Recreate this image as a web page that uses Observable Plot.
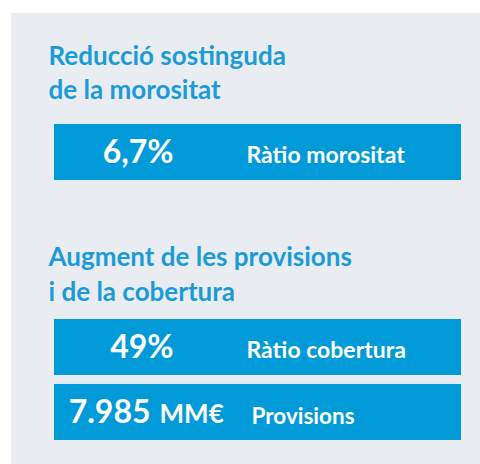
<!DOCTYPE html>
<html>
<head>
<meta charset="utf-8">
<script src="https://cdn.jsdelivr.net/npm/d3@7"></script>
<script src="https://cdn.jsdelivr.net/npm/@observablehq/plot@0.6"></script>
<style>
  html, body { margin: 0; padding: 0; background: #ffffff; }
  #wrap { position: relative; width: 480px; height: 464px; overflow: hidden; }
  #panel { position: absolute; left: 11px; top: 13px; width: 469px; height: 451px; background: #e9edf1; }
  #chart { position: absolute; left: 0; top: 0; }
</style>
</head>
<body>
<div id="wrap"><div id="panel"></div><div id="chart"></div></div>
<script>
// Section headings
const headings = ["Reducció sostinguda\nde la morositat", "Augment de les provisions\ni de la cobertura"];
const headingRows = ["h1", "h2"];
// Metrics
const metricRows = ["m1", "m2", "m3"];
const metricValues = ["6,7%", "49%", "7.985"];
const metricUnits = ["", "", "MM€"];
const metricLabels = ["Ràtio morositat", "Ràtio cobertura", "Provisions"];
// Layout rows (band order)
const layoutRows = ["pad", "h1", "m1", "h2a", "h2", "m2", "m3"];

const headingData = headings.map((t, i) => ({row: headingRows[i], text: t}));
const metrics = metricRows.map((r, i) => ({row: r, value: metricValues[i], unit: metricUnits[i], label: metricLabels[i]}));
const plain = metrics.filter(d => d.unit === "");
const withUnit = metrics.filter(d => d.unit !== "");

const FONT = "Lato, 'Open Sans', sans-serif";
const BLUE = "#009ad8";
const HEAD = "#1b9bd7";

const chart = Plot.plot({
  width: 480,
  height: 464,
  marginLeft: 54,
  marginRight: 19,
  marginTop: 0,
  marginBottom: 0,
  style: {background: "transparent", fontFamily: FONT},
  x: {type: "point", domain: ["value", "label"], range: [173, 246], padding: 0, axis: null},
  y: {type: "band", domain: layoutRows, range: [-6, 440], paddingInner: 0.138, paddingOuter: 0, round: false, axis: null},
  marks: [
    Plot.cell(metrics, {y: "row", fill: BLUE}),
    Plot.text(headingData.filter(d => d.row === "h1"), {y: "row", text: "text", frameAnchor: "left", dx: -6, dy: -16, textAnchor: "start", lineHeight: 1.31, fontSize: 26, fontWeight: "bold", fill: HEAD}),
    Plot.text(headingData.filter(d => d.row === "h2"), {y: "row", text: "text", frameAnchor: "left", dx: -6, dy: -10.5, textAnchor: "start", lineHeight: 1.35, fontSize: 26, fontWeight: "bold", fill: HEAD}),
    Plot.text(plain, {x: d => "value", y: "row", text: "value", textAnchor: "end", fontSize: 32, fontWeight: "bold", fill: "white"}),
    Plot.text(withUnit, {x: d => "value", y: "row", text: "value", textAnchor: "end", dx: -23, fontSize: 32, fontWeight: "bold", fill: "white"}),
    Plot.text(withUnit, {x: d => "value", y: "row", text: "unit", textAnchor: "start", dx: -14, dy: 2, fontSize: 26, fontWeight: "bold", fill: "white"}),
    Plot.text(plain, {x: d => "label", y: "row", text: "label", textAnchor: "start", dy: 3, fontSize: 23, fontWeight: "bold", fill: "white"}),
    Plot.text(withUnit, {x: d => "label", y: "row", text: "label", textAnchor: "start", dx: 5, dy: 4, fontSize: 22.5, fontWeight: "bold", fill: "white"})
  ]
});
document.getElementById("chart").appendChild(chart);
</script>
</body>
</html>
